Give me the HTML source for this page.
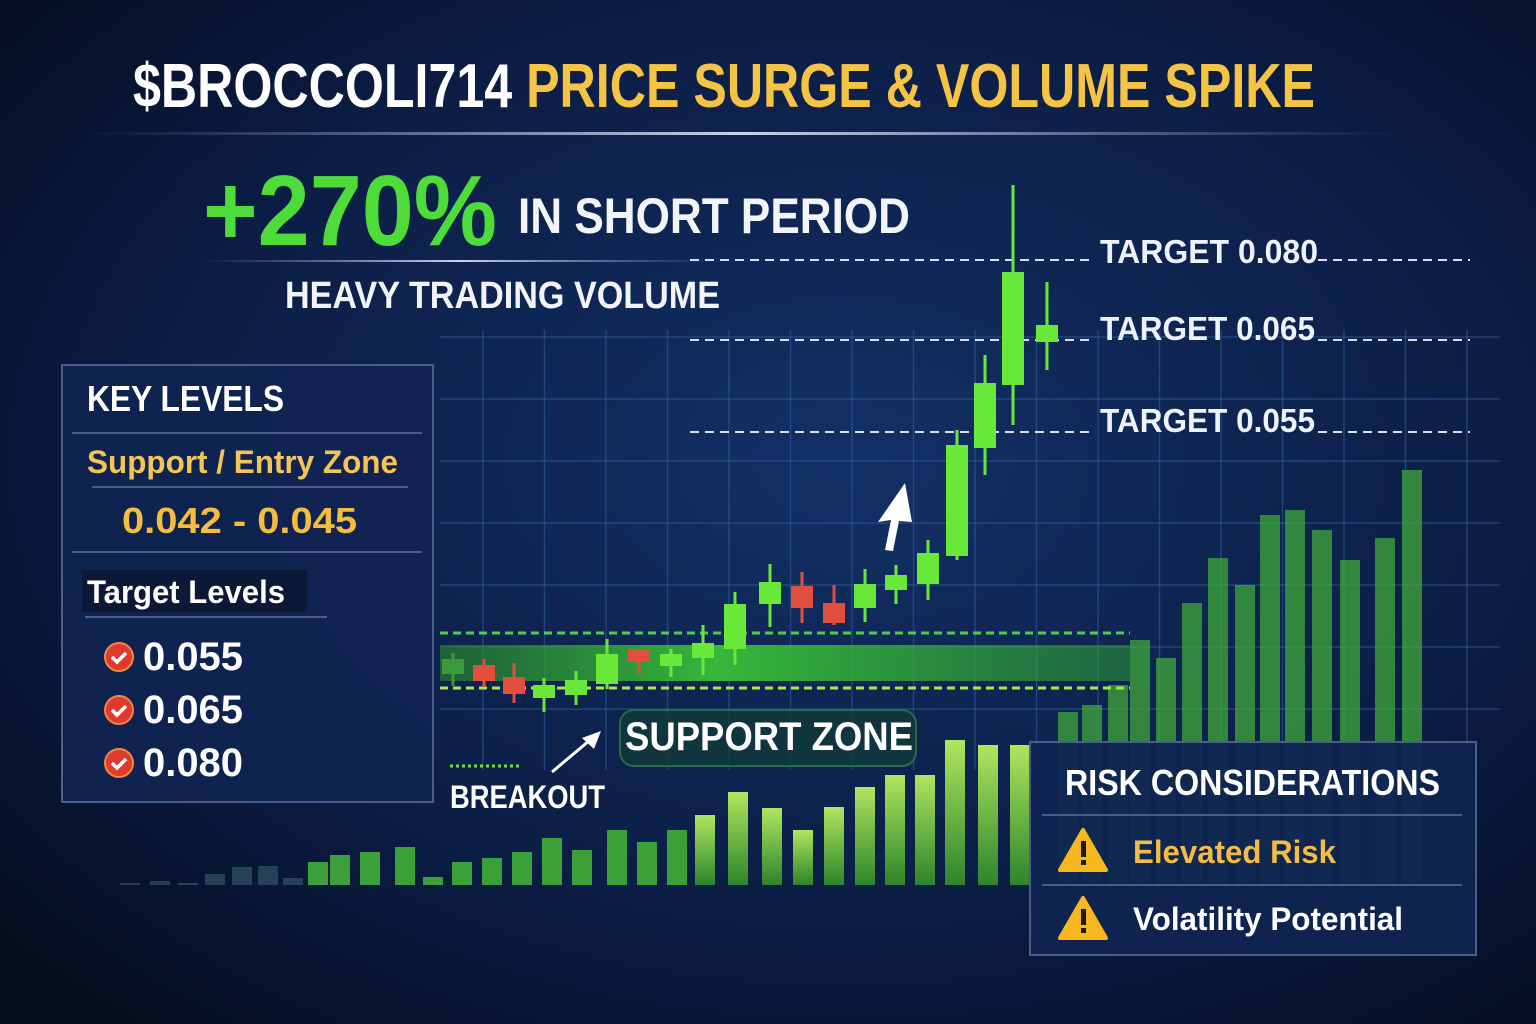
<!DOCTYPE html>
<html><head><meta charset="utf-8"><style>
html,body{margin:0;padding:0;background:#07122a;}
svg{display:block;}
text{font-family:"Liberation Sans Narrow","Liberation Sans",sans-serif;font-weight:bold;}
</style></head><body>
<svg id="chart" width="1536" height="1024" viewBox="0 0 1536 1024" xmlns="http://www.w3.org/2000/svg">
<defs>
<radialGradient id="bg" cx="0.55" cy="0.45" r="0.75">
<stop offset="0" stop-color="#133066"/><stop offset="0.6" stop-color="#0b1d44"/><stop offset="1" stop-color="#050b1c"/>
</radialGradient>
<linearGradient id="hl" x1="0" x2="1"><stop offset="0" stop-color="#8fa4c8" stop-opacity="0"/><stop offset="0.5" stop-color="#c8d4ea"/><stop offset="1" stop-color="#8fa4c8" stop-opacity="0"/></linearGradient>
<linearGradient id="vol" x1="0" y1="0" x2="0" y2="1"><stop offset="0" stop-color="#b8f060"/><stop offset="1" stop-color="#2f8a2a"/></linearGradient>
<linearGradient id="band" x1="0" x2="1"><stop offset="0" stop-color="#2a8a2e" stop-opacity="0.6"/><stop offset="0.4" stop-color="#36b83a"/><stop offset="1" stop-color="#2fa532" stop-opacity="0.5"/></linearGradient>
</defs>
<rect width="1536" height="1024" fill="url(#bg)"/>

<g id="grid" stroke="#2f5f9e" stroke-opacity="0.55" stroke-width="1.5"></g>

<g id="volume"></g>

<!-- support zone -->
<rect x="440" y="645" width="690" height="36" fill="url(#band)"/>
<line x1="440" y1="633" x2="1130" y2="633" stroke="#4fcf45" stroke-width="3" stroke-dasharray="8 5"/>
<line x1="440" y1="688" x2="1130" y2="688" stroke="#a8e84a" stroke-width="3" stroke-dasharray="8 5"/>

<!-- targets -->
<g stroke="#d8dff0" stroke-width="2" stroke-dasharray="9 6">
<line x1="690" y1="260" x2="1090" y2="260"/><line x1="1318" y1="260" x2="1470" y2="260"/>
<line x1="690" y1="340" x2="1090" y2="340"/><line x1="1318" y1="340" x2="1470" y2="340"/>
<line x1="690" y1="432" x2="1090" y2="432"/><line x1="1318" y1="432" x2="1470" y2="432"/>
</g>
<text x="1100" y="263" font-size="33" fill="#eef2fa" textLength="218" lengthAdjust="spacingAndGlyphs">TARGET  0.080</text>
<text x="1100" y="340" font-size="33" fill="#eef2fa" textLength="215" lengthAdjust="spacingAndGlyphs">TARGET  0.065</text>
<text x="1100" y="432" font-size="33" fill="#eef2fa" textLength="215" lengthAdjust="spacingAndGlyphs">TARGET  0.055</text>

<g id="candles"></g>

<!-- up arrow -->
<g fill="#fff">
<polygon points="905,483 878,522 891,520 885,550 893,551 899,521 912,522"/>
</g>

<!-- title -->
<text x="133" y="107" font-size="62" textLength="1182" lengthAdjust="spacingAndGlyphs"><tspan fill="#ffffff">$BROCCOLI714 </tspan><tspan fill="#f6c445">PRICE SURGE &amp; VOLUME SPIKE</tspan></text>
<rect x="85" y="132" width="1315" height="3" fill="url(#hl)"/>

<text x="203" y="245" font-size="100" fill="#4ddc3a" textLength="294" lengthAdjust="spacingAndGlyphs">+270%</text>
<text x="518" y="233" font-size="50" fill="#f2f4f8" textLength="392" lengthAdjust="spacingAndGlyphs">IN SHORT PERIOD</text>
<rect x="200" y="260" width="520" height="2" fill="url(#hl)"/>
<text x="285" y="308" font-size="38" fill="#f2f4f8" textLength="435" lengthAdjust="spacingAndGlyphs">HEAVY TRADING VOLUME</text>

<!-- support label -->
<rect x="620" y="710" width="296" height="56" rx="14" fill="#103a3a" fill-opacity="0.8" stroke="#2a6a4a" stroke-width="2"/>
<text x="625" y="750" font-size="40" fill="#fff" textLength="288" lengthAdjust="spacingAndGlyphs">SUPPORT ZONE</text>
<line x1="450" y1="766" x2="522" y2="766" stroke="#6adf40" stroke-width="3" stroke-dasharray="3 3"/>
<g><line x1="552" y1="772" x2="590" y2="740" stroke="#fff" stroke-width="3"/><polygon points="601,731 582,738 594,749" fill="#fff"/></g>
<text x="450" y="808" font-size="32" fill="#fff" textLength="155" lengthAdjust="spacingAndGlyphs">BREAKOUT</text>

<!-- key levels panel -->
<g>
<rect x="62" y="365" width="371" height="437" fill="#102452" fill-opacity="0.92" stroke="#4a5f88" stroke-width="2"/>
<text x="87" y="411" font-size="36" fill="#fff" textLength="197" lengthAdjust="spacingAndGlyphs">KEY LEVELS</text>
<rect x="72" y="432" width="350" height="2" fill="#4a5f88"/>
<text x="87" y="473" font-size="32" fill="#f3c556" textLength="311" lengthAdjust="spacingAndGlyphs">Support / Entry Zone</text>
<rect x="92" y="486" width="316" height="2" fill="#4a5f88"/>
<text x="122" y="533" font-size="36" fill="#f5bd3f" textLength="235" lengthAdjust="spacingAndGlyphs">0.042 - 0.045</text>
<rect x="72" y="551" width="350" height="2" fill="#4a5f88"/>
<rect x="82" y="570" width="225" height="42" fill="#0a1530" fill-opacity="0.8"/>
<text x="87" y="603" font-size="32" fill="#fff" textLength="198" lengthAdjust="spacingAndGlyphs">Target Levels</text>
<rect x="85" y="616" width="242" height="2" fill="#4a5f88"/>
<g id="checks"></g>
</g>

<!-- risk panel -->
<g>
<rect x="1030" y="742" width="446" height="213" fill="#102452" fill-opacity="0.95" stroke="#4a5f88" stroke-width="2"/>
<text x="1065" y="795" font-size="36" fill="#fff" textLength="375" lengthAdjust="spacingAndGlyphs">RISK CONSIDERATIONS</text>
<rect x="1042" y="814" width="420" height="2" fill="#4a5f88"/>
<g><polygon points="1083,830 1060,870 1106,870" fill="#f6b81e" stroke="#f6b81e" stroke-linejoin="round" stroke-width="4"/><rect x="1081" y="841" width="5" height="16" fill="#1a1a1a"/><rect x="1081" y="860" width="5" height="5" fill="#1a1a1a"/></g>
<text x="1133" y="863" font-size="32" fill="#f3bc48" textLength="203" lengthAdjust="spacingAndGlyphs">Elevated Risk</text>
<rect x="1042" y="884" width="420" height="2" fill="#4a5f88"/>
<g><polygon points="1083,898 1060,938 1106,938" fill="#f6b81e" stroke="#f6b81e" stroke-linejoin="round" stroke-width="4"/><rect x="1081" y="909" width="5" height="16" fill="#1a1a1a"/><rect x="1081" y="928" width="5" height="5" fill="#1a1a1a"/></g>
<text x="1133" y="930" font-size="32" fill="#fff" textLength="270" lengthAdjust="spacingAndGlyphs">Volatility Potential</text>
</g>
</svg>
<script>
const NS="http://www.w3.org/2000/svg";
// candle data (price units on chart scale)
const candleX=[453,484,514,544,576,607,639,671,703,735,770,802,834,865,896,928,957,985,1013,1047];
const opens=[46,55,43,22,25,36,71,54,62,71,116,134,117,112,130,136,164,272,335,378];
const closes=[61,39,26,35,40,66,58,66,77,116,138,112,97,136,145,167,275,337,448,395];
const highs=[67,61,57,42,49,81,71,71,95,128,156,148,135,151,155,180,290,365,535,438];
const lows=[34,33,17,8,15,31,46,43,45,55,93,97,95,98,116,120,160,245,295,350];
// volume data
const volX=[130,160,188,215,242,268,293,318,340,370,405,433,462,492,522,552,582,617,647,677,705,738,772,803,834,865,895,925,955,988,1020,1068,1092,1118,1140,1166,1192,1218,1245,1270,1295,1322,1350,1385,1412];
const volumes=[2,4,2,11,18,19,7,23,30,33,38,8,23,27,33,47,35,55,43,55,70,93,77,55,78,98,110,110,145,140,140,173,180,200,245,227,282,327,300,370,375,355,325,347,415];

function y(v){return 720-v;}
function vy(v){return 885-v;}
const g=document.getElementById('grid');
for(let x=483;x<=1500;x+=61.5){const l=document.createElementNS(NS,'line');l.setAttribute('x1',x);l.setAttribute('x2',x);l.setAttribute('y1',330);l.setAttribute('y2',770);


g.appendChild(l);}
for(let yy=337;yy<=770;yy+=62){const l=document.createElementNS(NS,'line');l.setAttribute('x1',440);l.setAttribute('x2',1500);l.setAttribute('y1',yy);l.setAttribute('y2',yy);


g.appendChild(l);}

const vg=document.getElementById('volume');
volumes.forEach((v,i)=>{const r=document.createElementNS(NS,'rect');const x=volX[i];
r.setAttribute('x',x-10);r.setAttribute('width',20);r.setAttribute('y',vy(v));r.setAttribute('height',v);
const bright=x>700&&x<1030;
r.setAttribute('fill',x<300?'#3a5f6a':(bright?'url(#vol)':'#3fa83a'));
r.setAttribute('opacity',x<300?0.6:(x>1050?0.75:0.95));


vg.appendChild(r);});

const cg=document.getElementById('candles');
candleX.forEach((x,i)=>{const up=closes[i]>=opens[i];const col=up?(i==0?'#3c9a3a':'#6ae83a'):'#e0503c';
const w=document.createElementNS(NS,'line');w.setAttribute('x1',x);w.setAttribute('x2',x);w.setAttribute('y1',y(highs[i]));w.setAttribute('y2',y(lows[i]));w.setAttribute('stroke',col);w.setAttribute('stroke-width',3);


cg.appendChild(w);
const b=document.createElementNS(NS,'rect');const top=y(Math.max(opens[i],closes[i]));const bot=y(Math.min(opens[i],closes[i]));
b.setAttribute('x',x-11);b.setAttribute('width',22);b.setAttribute('y',top);b.setAttribute('height',Math.max(3,bot-top));b.setAttribute('fill',col);


cg.appendChild(b);});

const ch=document.getElementById('checks');
const targetLabels=['0.055','0.065','0.080'];
targetLabels.forEach((t,i)=>{const cy=657+i*53;
const c=document.createElementNS(NS,'circle');c.setAttribute('cx',119);c.setAttribute('cy',cy);c.setAttribute('r',14);c.setAttribute('fill','#e03a2e');c.setAttribute('stroke','#f08a3a');c.setAttribute('stroke-width',2);


ch.appendChild(c);
const p=document.createElementNS(NS,'path');p.setAttribute('d',`M112 ${cy} l5 5 l9 -9`);p.setAttribute('stroke','#fff');p.setAttribute('stroke-width',3.5);p.setAttribute('fill','none');


ch.appendChild(p);
const tx=document.createElementNS(NS,'text');tx.setAttribute('x',143);tx.setAttribute('y',cy+13);tx.setAttribute('font-size',40);tx.setAttribute('fill','#fff');tx.setAttribute('textLength',100);tx.setAttribute('lengthAdjust','spacingAndGlyphs');tx.textContent=t;


ch.appendChild(tx);});
</script>
</body></html>
